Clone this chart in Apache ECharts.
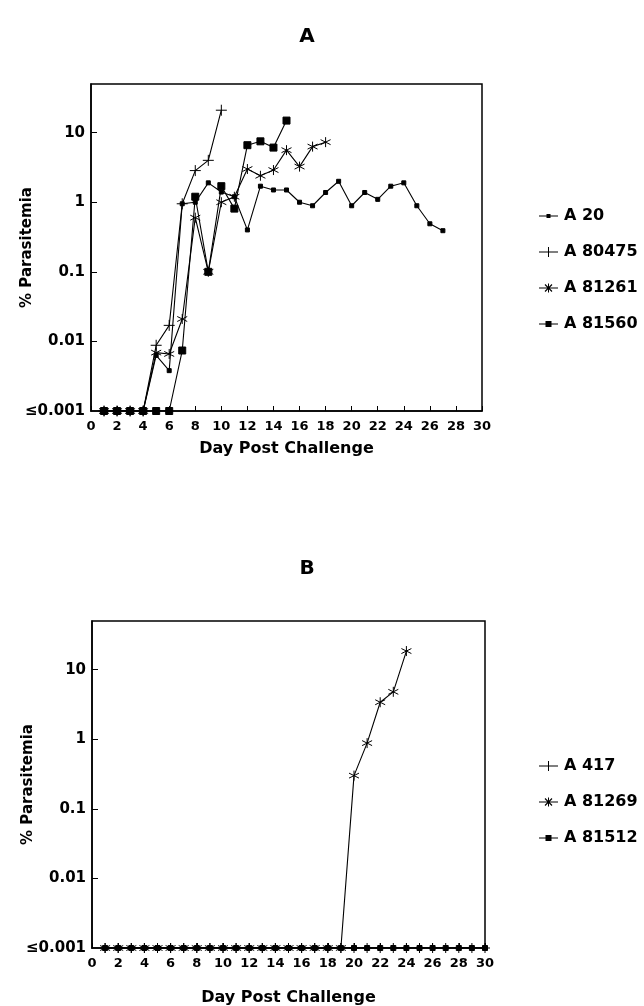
<!DOCTYPE html>
<html>
<head>
<meta charset="utf-8">
<script src="https://cdn.jsdelivr.net/npm/echarts@6/dist/echarts.min.js"></script>
<style>
  html, body { margin: 0; padding: 0; background: #fff; }
  #main { width: 644px; height: 1006px; }
</style>
</head>
<body>
<div id="main"></div>
<script>
// panel A
const daysA20 = [1, 2, 3, 4, 5, 6, 7, 8, 9, 10, 11, 12, 13, 14, 15, 16, 17, 18, 19, 20, 21, 22, 23, 24, 25, 26, 27]
const valsA20 = [0.001, 0.001, 0.001, 0.001, 0.0063, 0.0038, 0.95, 1.0, 1.9, 1.4, 1.2, 0.40, 1.7, 1.5, 1.5, 1.0, 0.89, 1.38, 2.0, 0.89, 1.38, 1.1, 1.7, 1.9, 0.89, 0.49, 0.39]
const daysA80475 = [1, 2, 3, 4, 5, 6, 7, 8, 9, 10]
const valsA80475 = [0.001, 0.001, 0.001, 0.001, 0.0088, 0.017, 0.95, 2.85, 4.0, 21]
const daysA81261 = [1, 2, 3, 4, 5, 6, 7, 8, 9, 10, 11, 12, 13, 14, 15, 16, 17, 18]
const valsA81261 = [0.001, 0.001, 0.001, 0.001, 0.0069, 0.0066, 0.021, 0.6, 0.1, 1.0, 1.2, 3.0, 2.4, 2.9, 5.6, 3.25, 6.3, 7.3]
const daysA81560 = [1, 2, 3, 4, 5, 6, 7, 8, 9, 10, 11, 12, 13, 14, 15]
const valsA81560 = [0.001, 0.001, 0.001, 0.001, 0.001, 0.001, 0.0074, 1.2, 0.1, 1.7, 0.81, 6.6, 7.5, 6.1, 14.9]

// panel B
const daysB417 = [1, 2, 3, 4, 5, 6, 7, 8, 9, 10, 11, 12, 13, 14, 15, 16, 17, 18, 19, 20, 21, 22, 23, 24, 25, 26, 27, 28, 29, 30]
const valsB417 = [0.001, 0.001, 0.001, 0.001, 0.001, 0.001, 0.001, 0.001, 0.001, 0.001, 0.001, 0.001, 0.001, 0.001, 0.001, 0.001, 0.001, 0.001, 0.001, 0.001, 0.001, 0.001, 0.001, 0.001, 0.001, 0.001, 0.001, 0.001, 0.001, 0.001]
const daysB81269 = [1, 2, 3, 4, 5, 6, 7, 8, 9, 10, 11, 12, 13, 14, 15, 16, 17, 18, 19, 20, 21, 22, 23, 24]
const valsB81269 = [0.001, 0.001, 0.001, 0.001, 0.001, 0.001, 0.001, 0.001, 0.001, 0.001, 0.001, 0.001, 0.001, 0.001, 0.001, 0.001, 0.001, 0.001, 0.001, 0.30, 0.88, 3.4, 4.8, 18.5]
const daysB81512 = [1, 2, 3, 4, 5, 6, 7, 8, 9, 10, 11, 12, 13, 14, 15, 16, 17, 18, 19, 20, 21, 22, 23, 24, 25, 26, 27, 28, 29, 30]
const valsB81512 = [0.001, 0.001, 0.001, 0.001, 0.001, 0.001, 0.001, 0.001, 0.001, 0.001, 0.001, 0.001, 0.001, 0.001, 0.001, 0.001, 0.001, 0.001, 0.001, 0.001, 0.001, 0.001, 0.001, 0.001, 0.001, 0.001, 0.001, 0.001, 0.001, 0.001]

const yTickValues = [0.001, 0.01, 0.1, 1, 10]
const yTickLabels = ['≤0.001', '0.01', '0.1', '1', '10']
const namesA = ['A 20', 'A 80475', 'A 81261', 'A 81560']
const namesB = ['A 417', 'A 81269', 'A 81512']

const font = 'DejaVu Sans'
// marker shapes used on the lines (stroked)
const plusPath = 'path://M5,0L5,10M0,5L10,5'
const starPath = 'path://M5,0L5,10M0.67,2.5L9.33,7.5M0.67,7.5L9.33,2.5'
// legend keys: short line with the marker on it (filled shapes, 19x10 box)
const keyBar = 'M0,4.5h19v1H0z'
const keySmallSq = 'path://' + keyBar + 'M7.5,3h4v4h-4z'
const keyBigSq = 'path://' + keyBar + 'M6.5,2h6v6h-6z'
const keyPlus = 'path://' + keyBar + 'M9,0h1v10h-1z'
const keyStar = 'path://' + keyBar + 'M9,0.5h1v9h-1zM5.6,1.9L6.4,1.1L13.4,8.1L12.6,8.9zM12.6,1.1L13.4,1.9L6.4,8.9L5.6,8.1z'

const toPairs = (days, vals) => days.map((d, i) => [d, vals[i]])

function makeSeries(name, days, vals, symbol, size, idx, z) {
  return {
    name: name,
    type: 'line',
    xAxisIndex: idx,
    yAxisIndex: idx,
    data: toPairs(days, vals),
    symbol: symbol,
    symbolSize: size,
    showAllSymbol: true,
    z: z,
    lineStyle: { color: '#000', width: 1.1 },
    itemStyle: { color: '#000', borderColor: '#000', borderWidth: 1 },
    emphasis: { disabled: true }
  }
}

function xAxisFor(idx, gap) {
  return {
    type: 'value',
    gridIndex: idx,
    min: 0,
    max: 30,
    interval: 2,
    name: 'Day Post Challenge',
    nameLocation: 'middle',
    nameGap: gap,
    nameMoveOverlap: false,
    nameTextStyle: { fontFamily: font, fontWeight: 'bold', fontSize: 16, color: '#000' },
    axisLine: { lineStyle: { color: '#000', width: 1.5 } },
    axisTick: { inside: true, length: 5, lineStyle: { color: '#000' } },
    axisLabel: { fontFamily: font, fontWeight: 'bold', fontSize: 13, color: '#000', margin: 9 },
    splitLine: { show: false }
  }
}

function yAxisFor(idx) {
  return {
    type: 'log',
    logBase: 10,
    gridIndex: idx,
    min: 0.001,
    max: 50,
    name: '% Parasitemia',
    nameLocation: 'middle',
    nameGap: 56,
    nameMoveOverlap: false,
    nameTextStyle: { fontFamily: font, fontWeight: 'bold', fontSize: 15, color: '#000' },
    axisLine: { show: true, lineStyle: { color: '#000', width: 1.5 } },
    axisTick: { show: true, inside: true, length: 6, customValues: yTickValues.slice(1), lineStyle: { color: '#000' } },
    axisLabel: {
      customValues: yTickValues,
      formatter: v => yTickLabels[Math.round(Math.log10(v)) + 3],
      fontFamily: font, fontWeight: 'bold', fontSize: 15, color: '#000', margin: 6
    },
    splitLine: { show: false }
  }
}

const legendStyle = {
  orient: 'vertical',
  left: 534,
  itemGap: 20,
  itemWidth: 19,
  itemHeight: 10,
  selectedMode: false,
  itemStyle: { borderWidth: 0 },
  textStyle: { fontFamily: font, fontWeight: 'bold', fontSize: 16, color: '#000', padding: [0, 0, 0, 1] }
}

const chart = echarts.init(document.getElementById('main'), null, { renderer: 'canvas' })
const option = {
  animation: false,
  backgroundColor: '#fff',
  title: [
    { text: 'A', left: 302, top: 22, textAlign: 'center', textStyle: { fontFamily: font, fontWeight: 'bold', fontSize: 20, color: '#000' } },
    { text: 'B', left: 302, top: 554, textAlign: 'center', textStyle: { fontFamily: font, fontWeight: 'bold', fontSize: 20, color: '#000' } }
  ],
  legend: [
    Object.assign({}, legendStyle, {
      top: 203,
      data: [
        { name: namesA[0], icon: keySmallSq },
        { name: namesA[1], icon: keyPlus },
        { name: namesA[2], icon: keyStar },
        { name: namesA[3], icon: keyBigSq }
      ]
    }),
    Object.assign({}, legendStyle, {
      top: 753,
      data: [
        { name: namesB[0], icon: keyPlus },
        { name: namesB[1], icon: keyStar },
        { name: namesB[2], icon: keyBigSq }
      ]
    })
  ],
  grid: [
    { left: 91, top: 84, width: 391, height: 327, show: true, borderColor: '#000', borderWidth: 1.5, outerBoundsMode: 'none' },
    { left: 92, top: 621, width: 393, height: 327, show: true, borderColor: '#000', borderWidth: 1.5, outerBoundsMode: 'none' }
  ],
  xAxis: [xAxisFor(0, 30), xAxisFor(1, 42)],
  yAxis: [yAxisFor(0), yAxisFor(1)],
  series: [
    makeSeries(namesA[0], daysA20, valsA20, 'rect', 4, 0, 2),
    makeSeries(namesA[1], daysA80475, valsA80475, plusPath, 11, 0, 3),
    makeSeries(namesA[2], daysA81261, valsA81261, starPath, 10, 0, 5),
    makeSeries(namesA[3], daysA81560, valsA81560, 'rect', 7, 0, 4),
    makeSeries(namesB[0], daysB417, valsB417, plusPath, 10, 1, 3),
    makeSeries(namesB[1], daysB81269, valsB81269, starPath, 10, 1, 5),
    makeSeries(namesB[2], daysB81512, valsB81512, 'rect', 5, 1, 4)
  ]
}
chart.setOption(option)
</script>
</body>
</html>
